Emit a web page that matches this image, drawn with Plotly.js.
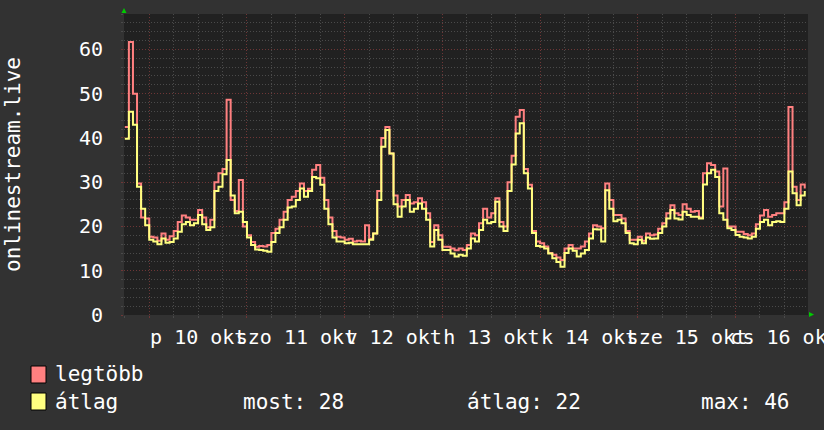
<!DOCTYPE html>
<html><head><meta charset="utf-8">
<script src="https://cdn.plot.ly/plotly-3.0.1.min.js"></script>
<style>html,body{margin:0;padding:0;background:#323232;}#chart{width:824px;height:430px;}</style>
</head><body><div id="chart"></div><script>
// hourly samples starting 2025-10-09 18:00
const startUTC = Date.UTC(2025, 9, 9, 18, 0);
const maxValues = [
 42.5, 61.7, 50, 29.7, 22, 21.8,
 17.7, 17.5, 16.8, 18.4, 17, 17.8, 19, 21, 22.5, 22,
 21.5, 21.5, 23.7, 22, 19.8, 21.5, 30, 32, 33, 48.6,
 26, 23.5, 30.5, 20, 18, 16.5, 15.4, 15.6, 15.5, 15.8,
 18.5, 19.5, 21.5, 23.3, 26,
 26.7, 28, 29.7, 28, 28.5, 32.8, 33.9, 31, 26, 22,
 19, 17.7, 17.5, 17, 17.2, 16.6, 16.8, 16.6, 20.3, 17.2,
 18.4, 28, 40, 42.5, 36.5, 27, 24.5, 26, 27.1, 25.2,
 25.5, 26.4, 25.5, 23, 16.5, 20.3, 18, 15.4, 15.4, 15,
 14.6, 15,
 14.7, 15.8, 18.4, 18, 20.7, 24, 22, 23, 26.4, 21,
 20, 30, 36, 44.8, 46.3, 33, 29.4, 19, 16.6, 16.2,
 15.5, 14, 13.6, 13, 12.4, 15, 15.8, 15, 15, 15.5,
 16.6, 18.4, 20.3, 20, 19.6, 29.7, 26, 22.6, 22.6, 21.8,
 19, 17,
 17, 17.7, 16.8, 18.4, 18, 18.2, 19.5, 20.7, 23, 24.8,
 23, 22.6, 25, 24, 23.3, 23.5, 22, 32, 34.3, 33.9,
 32.4, 24.5, 33.1, 20, 20, 18.8, 18.8, 18.3, 18, 18.4,
 20.5, 22.5, 23.7, 22.2, 22.6, 23, 23, 25.5, 47, 29,
 26, 29.5, 28.6
];
const avgValues = [
 39.8, 45.9, 43, 29, 24, 20.3,
 17, 16.6, 16, 17.3, 16.3, 16.5, 17.3, 18.8, 20.5, 21,
 20.3, 20.7, 22.6, 20.5, 19.2, 19.8, 28, 29, 31.8, 35,
 27, 23, 23.3, 21, 17.5, 15.8, 14.8, 14.7, 14.5, 14.3,
 16.5, 18.5, 19.8, 21.5, 24.3,
 24.5, 26, 28.6, 26.7, 28, 31.2, 30.9, 29.4, 24, 20.5,
 17.5, 16.6, 16.6, 16.2, 16.3, 16, 16, 16, 16, 17,
 18.4, 26, 38, 41.8, 36.5, 25, 22.2, 24.5, 26, 23.3,
 24, 25.2, 24, 21.5, 15.5, 19.2, 17, 14.7, 14.7, 13.9,
 13.2, 13.6,
 13.4, 15, 17.3, 16.6, 19.2, 21.5, 20.7, 21, 25.6, 20,
 19, 28, 34, 41, 43.3, 32, 28.6, 18.5, 15.6, 15.4,
 15, 13.9, 12.8, 12, 10.9, 14, 15, 14.5, 13.2, 13.9,
 14.7, 17.3, 19.4, 19.3, 16.6, 28.2, 24, 21.2, 21.5, 20.7,
 18.5, 16.2,
 16, 17, 16.2, 17.5, 17.2, 17.3, 18.5, 20, 21.8, 23.7,
 21.8, 21.6, 23.3, 22.6, 22.2, 22.2, 21.8, 29.5, 32, 32.8,
 31.2, 23, 21.5, 19.6, 19.2, 18.1, 17.7, 17.5, 17.3, 17.7,
 19.5, 21, 21.5, 20.3, 21, 21.2, 21, 24, 32.4, 27.5,
 24.8, 27, 28
];
const dayTicks = ["2025-10-10","2025-10-11","2025-10-12","2025-10-13","2025-10-14","2025-10-15","2025-10-16"];
const dayLabels = ["p 10 okt","szo 11 okt","v 12 okt","h 13 okt","k 14 okt","sze 15 okt","cs 16 okt"];
const yTicks = [0, 10, 20, 30, 40, 50, 60];
const seriesNames = ["legtöbb", "átlag"];
const statLabels = ["most: 28", "átlag: 22", "max: 46"];
const axisTitle = "onlinestream.live";

function pad(n){return (n<10?"0":"")+n;}
function fmt(ms){const d=new Date(ms);return d.getUTCFullYear()+"-"+pad(d.getUTCMonth()+1)+"-"+pad(d.getUTCDate())+" "+pad(d.getUTCHours())+":"+pad(d.getUTCMinutes());}
const times = maxValues.map((_, i) => fmt(startUTC + i*3600000));

const FONT = '"DejaVu Sans Mono", monospace';
const RED = '#ff8080', YEL = '#ffff80';
const MAJ = '#6e3636', MIN = '#4a4a4a';

const traces = [
 {x: times, y: maxValues, type: 'scatter', mode: 'lines', line: {color: RED, width: 2, shape: 'hv'}, name: seriesNames[0], hoverinfo: 'skip'},
 {x: times, y: avgValues, type: 'scatter', mode: 'lines', line: {color: YEL, width: 2, shape: 'hv'}, name: seriesNames[1], hoverinfo: 'skip'}
];

function px(x){return (x-124)/684;}
function py(y){return (315-y)/301;}

const layout = {
 width: 824, height: 430,
 margin: {l: 124, r: 16, t: 14, b: 115},
 paper_bgcolor: '#323232', plot_bgcolor: '#212121',
 showlegend: false,
 font: {family: FONT, color: '#ffffff', size: 20},
 xaxis: {
  type: 'date', range: ['2025-10-09 17:48', '2025-10-16 17:48'],
  tickmode: 'array', tickvals: dayTicks, ticktext: dayLabels,
  ticklabelshift: 49, ticklabelstandoff: 2, tickangle: 0, ticklabeloverflow: 'allow',
  ticks: 'outside', ticklen: 2, tickcolor: MAJ,
  showgrid: true, gridcolor: MAJ, griddash: '1px,2px', gridwidth: 1,
  minor: {dtick: 21600000, tick0: '2025-10-10 00:00', showgrid: true, gridcolor: MIN, griddash: '1px,2px', ticks: 'outside', ticklen: 2, tickcolor: MIN},
  zeroline: false, showline: false, fixedrange: true,
  tickfont: {family: FONT, size: 20, color: '#ffffff'}
 },
 yaxis: {
  range: [0, 68], tickmode: 'array', tickvals: yTicks,
  ticks: 'outside', ticklen: 2, tickcolor: MAJ, ticklabelstandoff: 14,
  showgrid: true, gridcolor: MAJ, griddash: '1px,2px', gridwidth: 1,
  minor: {dtick: 2, showgrid: true, gridcolor: MIN, griddash: '1px,2px', ticks: 'outside', ticklen: 2, tickcolor: MIN},
  zeroline: false, showline: false, fixedrange: true,
  tickfont: {family: FONT, size: 20, color: '#ffffff'}
 },
 shapes: [
  {type: 'path', xref: 'paper', yref: 'paper', path: `M ${px(121.5)} ${py(13)} L ${px(124)} ${py(8)} L ${px(126.5)} ${py(13)} Z`, fillcolor: '#00cc00', line: {width: 0}},
  {type: 'path', xref: 'paper', yref: 'paper', path: `M ${px(809)} ${py(312)} L ${px(814)} ${py(314.5)} L ${px(809)} ${py(317)} Z`, fillcolor: '#00cc00', line: {width: 0}},
  {type: 'rect', xref: 'paper', yref: 'paper', x0: px(31), x1: px(46), y0: py(366), y1: py(383), fillcolor: RED, line: {color: '#000000', width: 1}},
  {type: 'rect', xref: 'paper', yref: 'paper', x0: px(31), x1: px(46), y0: py(393), y1: py(410), fillcolor: YEL, line: {color: '#000000', width: 1}}
 ],
 annotations: [
  {text: axisTitle, xref: 'paper', yref: 'paper', x: px(13), y: py(165), textangle: -90, showarrow: false, xanchor: 'center', yanchor: 'middle', font: {family: FONT, size: 21, color: '#ffffff'}},
  {text: seriesNames[0], xref: 'paper', yref: 'paper', x: px(53), y: py(374), showarrow: false, xanchor: 'left', yanchor: 'middle', font: {family: FONT, size: 21, color: '#ffffff'}},
  {text: seriesNames[1], xref: 'paper', yref: 'paper', x: px(53), y: py(402), showarrow: false, xanchor: 'left', yanchor: 'middle', font: {family: FONT, size: 21, color: '#ffffff'}},
  {text: statLabels[0], xref: 'paper', yref: 'paper', x: px(241), y: py(402), showarrow: false, xanchor: 'left', yanchor: 'middle', font: {family: FONT, size: 21, color: '#ffffff'}},
  {text: statLabels[1], xref: 'paper', yref: 'paper', x: px(465), y: py(402), showarrow: false, xanchor: 'left', yanchor: 'middle', font: {family: FONT, size: 21, color: '#ffffff'}},
  {text: statLabels[2], xref: 'paper', yref: 'paper', x: px(699), y: py(402), showarrow: false, xanchor: 'left', yanchor: 'middle', font: {family: FONT, size: 21, color: '#ffffff'}}
 ]
};
Plotly.newPlot('chart', traces, layout, {staticPlot: true, displayModeBar: false});
</script></body></html>
